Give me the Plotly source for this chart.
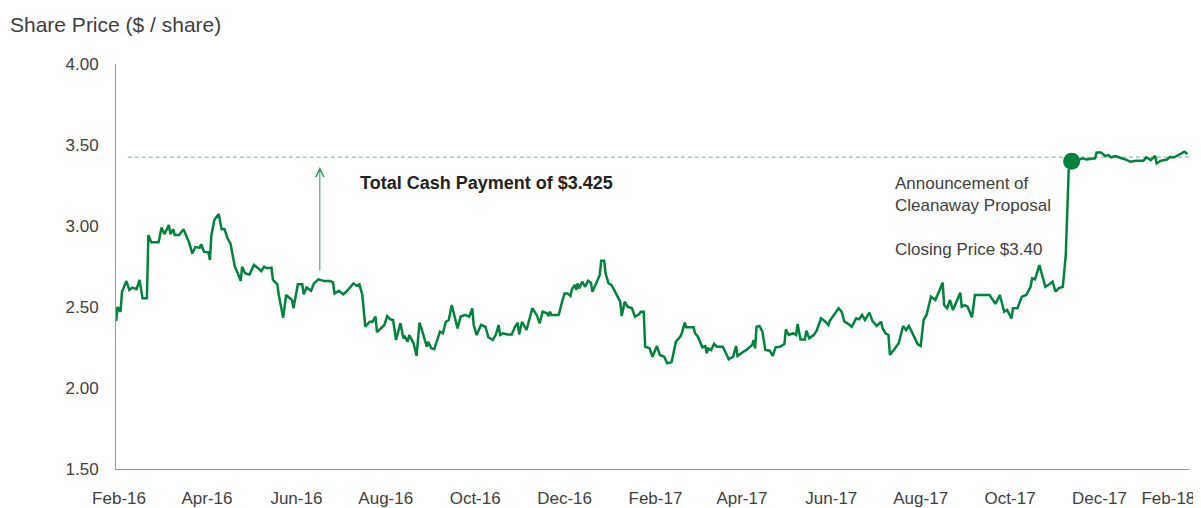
import pandas as pd
import plotly.graph_objects as go

# ---------------- data ----------------
base_date = "2016-02-01"
# trading observations: days since 1 Feb 2016, and closing share price ($)
day_offset = [
    -2, -1, 1, 2, 5, 7, 9, 12, 14, 16, 19, 20, 22, 27, 29, 31, 34, 35, 37, 38,
    41, 43, 44, 48, 50, 52, 55, 56, 58, 61, 62, 63, 65, 68, 70, 72, 74, 76, 79, 81,
    83, 84, 86, 89, 92, 95, 97, 99, 101, 104, 105, 108, 109, 112, 114, 118, 119, 122, 125, 126,
    128, 131, 133, 136, 140, 144, 146, 147, 150, 153, 155, 160, 162, 164, 166, 168, 171, 173, 175, 176,
    179, 181, 183, 185, 187, 189, 192, 194, 195, 197, 198, 201, 203, 205, 207, 210, 211, 213, 215, 218,
    219, 221, 223, 225, 227, 229, 231, 233, 236, 239, 241, 242, 244, 247, 250, 252, 255, 257, 259, 260,
    262, 265, 268, 270, 272, 273, 275, 278, 280, 282, 285, 287, 289, 292, 293, 294, 295, 300, 302, 304,
    306, 308, 309, 311, 312, 313, 314, 316, 318, 320, 322, 323, 326, 328, 329, 331, 332, 334, 336, 339,
    342, 343, 345, 347, 350, 352, 355, 356, 358, 359, 362, 364, 367, 369, 372, 374, 377, 380, 383, 384,
    386, 387, 392, 393, 395, 398, 400, 401, 402, 404, 406, 408, 412, 416, 419, 421, 422, 425, 428, 432,
    433, 434, 435, 437, 439, 441, 444, 446, 448, 451, 454, 455, 457, 460, 462, 463, 465, 468, 469, 471,
    474, 476, 479, 482, 484, 485, 488, 491, 493, 495, 497, 500, 503, 505, 507, 509, 512, 514, 517, 520,
    521, 523, 525, 526, 529, 532, 535, 537, 539, 542, 545, 547, 549, 551, 554, 557, 559, 562, 563, 565,
    567, 569, 571, 574, 575, 577, 579, 582, 584, 594, 598, 601, 604, 606, 609, 610, 613, 616, 619, 622,
    623, 625, 628, 630, 632, 635, 637, 639, 641, 644, 646, 648, 650, 655, 658, 660, 666, 667, 670, 673,
    675, 677, 680, 684, 687, 690, 694, 699, 701, 704, 707, 708, 711, 715, 717, 720, 724, 727, 729,
]
price = [
    2.414, 2.50, 2.47, 2.594, 2.66, 2.605, 2.62, 2.61, 2.667, 2.554, 2.554, 2.944, 2.90, 2.90, 2.99, 2.95, 3.006, 2.95, 2.98, 2.944,
    2.944, 2.97, 2.98, 2.893, 2.83, 2.87, 2.866, 2.887, 2.84, 2.838, 2.79, 2.944, 3.037, 3.074, 2.98, 2.98, 2.924, 2.893, 2.749, 2.708,
    2.662, 2.749, 2.708, 2.70, 2.759, 2.739, 2.722, 2.749, 2.739, 2.743, 2.667, 2.64, 2.574, 2.434, 2.574, 2.543, 2.492, 2.64, 2.64, 2.578,
    2.62, 2.60, 2.646, 2.671, 2.66, 2.66, 2.652, 2.584, 2.60, 2.578, 2.594, 2.646, 2.632, 2.64, 2.574, 2.378, 2.409, 2.409, 2.44, 2.345,
    2.368, 2.389, 2.444, 2.424, 2.42, 2.296, 2.399, 2.307, 2.317, 2.286, 2.327, 2.276, 2.198, 2.403, 2.348, 2.255, 2.286, 2.245, 2.239, 2.327,
    2.348, 2.338, 2.409, 2.42, 2.512, 2.44, 2.368, 2.44, 2.451, 2.44, 2.492, 2.389, 2.327, 2.389, 2.378, 2.313, 2.296, 2.327, 2.389, 2.327,
    2.338, 2.331, 2.331, 2.375, 2.403, 2.331, 2.409, 2.358, 2.43, 2.492, 2.451, 2.399, 2.471, 2.461, 2.444, 2.471, 2.451, 2.451, 2.523, 2.584,
    2.584, 2.568, 2.609, 2.636, 2.605, 2.646, 2.615, 2.656, 2.625, 2.662, 2.65, 2.594, 2.656, 2.698, 2.786, 2.786, 2.708, 2.646, 2.636, 2.58,
    2.533, 2.444, 2.533, 2.502, 2.492, 2.44, 2.457, 2.471, 2.471, 2.255, 2.245, 2.193, 2.259, 2.204, 2.193, 2.152, 2.159, 2.286, 2.317, 2.338,
    2.403, 2.375, 2.375, 2.338, 2.317, 2.251, 2.259, 2.214, 2.245, 2.235, 2.272, 2.255, 2.255, 2.177, 2.193, 2.259, 2.198, 2.218, 2.235, 2.265,
    2.296, 2.245, 2.378, 2.383, 2.348, 2.235, 2.230, 2.198, 2.251, 2.255, 2.272, 2.362, 2.327, 2.338, 2.327, 2.395, 2.30, 2.30, 2.354, 2.307,
    2.327, 2.354, 2.43, 2.409, 2.389, 2.415, 2.451, 2.492, 2.471, 2.409, 2.399, 2.378, 2.43, 2.424, 2.451, 2.42, 2.465, 2.415, 2.383, 2.409,
    2.368, 2.338, 2.327, 2.204, 2.239, 2.276, 2.383, 2.358, 2.383, 2.33, 2.27, 2.259, 2.42, 2.451, 2.564, 2.543, 2.584, 2.65, 2.512, 2.492,
    2.543, 2.481, 2.523, 2.588, 2.502, 2.512, 2.502, 2.436, 2.574, 2.574, 2.519, 2.574, 2.471, 2.481, 2.43, 2.492, 2.492, 2.564, 2.574, 2.625,
    2.677, 2.671, 2.759, 2.687, 2.625, 2.642, 2.656, 2.594, 2.615, 2.625, 2.821, 3.346, 3.40, 3.41, 3.418, 3.41, 3.418, 3.453, 3.453, 3.432,
    3.438, 3.424, 3.432, 3.418, 3.41, 3.397, 3.403, 3.403, 3.424, 3.407, 3.432, 3.387, 3.403, 3.41, 3.426, 3.424, 3.444, 3.459, 3.444,
]

offer_price = 3.425
offer_line_dates = ["2016-02-07", "2018-01-31"]
announce_date = "2017-11-12"
announce_price = 3.40
arrow_date = "2016-06-17"
arrow_from, arrow_to = 2.716, 3.364
offer_label_date = "2016-07-13"
offer_label_y = 3.265
announce_label_date = "2017-07-13"
announce_label_y = 3.265

tick_dates = ["2016-02-01", "2016-04-01", "2016-06-01", "2016-08-01", "2016-10-01",
              "2016-12-01", "2017-02-01", "2017-04-01", "2017-06-01", "2017-08-01",
              "2017-10-01", "2017-12-01", "2018-01-17"]
tick_labels = ["Feb-16", "Apr-16", "Jun-16", "Aug-16", "Oct-16", "Dec-16", "Feb-17",
               "Apr-17", "Jun-17", "Aug-17", "Oct-17", "Dec-17", "Feb-18"]
y_ticks = [1.5, 2.0, 2.5, 3.0, 3.5, 4.0]
y_tick_labels = ["1.50", "2.00", "2.50", "3.00", "3.50", "4.00"]

# ---------------- figure ----------------
GREEN = "#00843D"
FONT = "Liberation Sans, Arial, Helvetica, sans-serif"
TXT = "#404040"
W, H = 1193, 500   # page adds an 8px body margin on the top/left

dates = pd.Timestamp(base_date) + pd.to_timedelta(day_offset, unit="D")

fig = go.Figure()
fig.add_trace(go.Scatter(
    x=offer_line_dates, y=[offer_price, offer_price], mode="lines",
    line=dict(color="rgba(90,150,115,0.8)", width=1, dash="4px,3px"),
    hoverinfo="skip", showlegend=False))
fig.add_trace(go.Scatter(
    x=dates, y=price, mode="lines",
    line=dict(color=GREEN, width=2.5), showlegend=False))
fig.add_trace(go.Scatter(
    x=[announce_date], y=[announce_price], mode="markers",
    marker=dict(color=GREEN, size=17), showlegend=False))

fig.add_annotation(
    x=arrow_date, y=arrow_to, ax=arrow_date, ay=arrow_from,
    xref="x", yref="y", axref="x", ayref="y", text="", showarrow=True,
    arrowhead=5, arrowsize=1.6, arrowwidth=1, arrowcolor="#2f9a5c", standoff=0)
fig.add_annotation(
    x=offer_label_date, y=offer_label_y, xref="x", yref="y",
    text="<b>Total Cash Payment of $3.425</b>", showarrow=False,
    xanchor="left", yanchor="middle", font=dict(family=FONT, size=18, color="#222222"))
fig.add_annotation(
    x=announce_label_date, y=announce_label_y, xref="x", yref="y",
    text="Announcement of<br>Cleanaway Proposal<br><br>Closing Price $3.40",
    showarrow=False, xanchor="left", yanchor="top", align="left",
    yshift=11, font=dict(family=FONT, size=17, color=TXT))

fig.update_layout(
    width=W, height=H,
    margin=dict(l=108, r=12, t=56, b=39, autoexpand=False),
    paper_bgcolor="white", plot_bgcolor="white",
    font=dict(family=FONT, size=17, color=TXT),
    title=dict(text="Share Price ($ / share)", x=2 / W, xref="container",
               xanchor="left", y=1 - 17 / H, yref="container", yanchor="middle",
               font=dict(family=FONT, size=21, color=TXT)),
)
fig.update_xaxes(
    type="date", range=["2016-01-29 22:00", "2018-01-31 02:00"],
    tickvals=tick_dates, ticktext=tick_labels, automargin=False,
    showgrid=False, zeroline=False, showline=True, linecolor="#999999", linewidth=1,
    ticks="outside", ticklen=14, tickcolor="rgba(0,0,0,0)",
    tickfont=dict(family=FONT, size=17, color=TXT))
fig.update_yaxes(
    range=[1.5, 4.0], tickvals=y_ticks, ticktext=y_tick_labels, automargin=False,
    showgrid=False, zeroline=False, showline=True, linecolor="#999999", linewidth=1,
    ticks="outside", ticklen=13, tickcolor="rgba(0,0,0,0)",
    tickfont=dict(family=FONT, size=17, color=TXT))

fig.write_html("out.html")
